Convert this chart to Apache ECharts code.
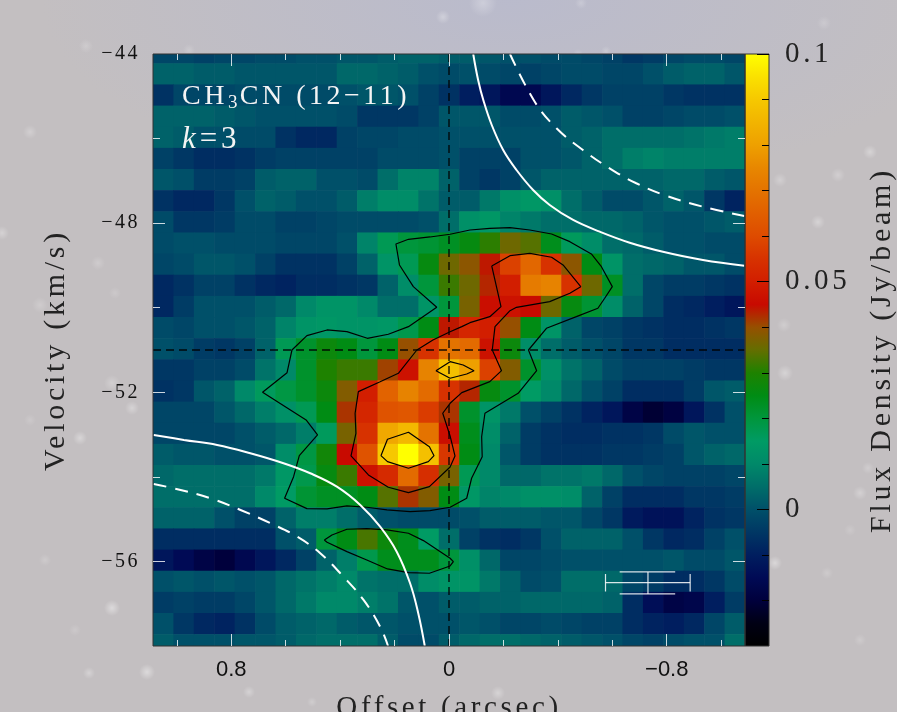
<!DOCTYPE html>
<html><head><meta charset="utf-8">
<style>
html,body{margin:0;padding:0;width:897px;height:712px;overflow:hidden}
body{background-color:#c3bfc1}
#c{width:897px;height:712px}
</style>
<script src="https://cdn.jsdelivr.net/npm/echarts@6/dist/echarts.min.js"></script>
</head><body><div id="c"></div>
<script>
// Offset centres (arcsec) and velocity centres (km/s) of the 29x29 map
const offsetIndex = [14,13,12,11,10,9,8,7,6,5,4,3,2,1,0,-1,-2,-3,-4,-5,-6,-7,-8,-9,-10,-11,-12,-13,-14];
const cellWidth = 0.075;
const velocityTop = -43.97, cellHeight = 0.5;
const colorStops = ['#000000','#000014','#00003c','#000a55','#001e5f','#003764','#005069','#006e69','#008969','#009b64','#00963c','#008c14','#1e8200','#646e00','#965000','#c80a00','#d21e00','#d73200','#de4b00','#e15f00','#e47300','#e88700','#eea000','#f2b400','#f6c800','#fae100','#ffff00'];
// Flux in mJy/beam, read row by row from top to bottom, columns left to right
const fluxRows = [
[-2,-2,-3,-2,-2,-1,-1,0,0,1,1,2,3,3,2,2,1,0,0,-1,-1,-2,-3,-5,-4,-2,-1,-1,-2],
[3,3,2,2,1,1,1,1,1,4,4,3,2,0,-1,0,-1,-2,-3,-2,-1,-1,-2,-2,0,2,3,3,1],
[-6,-2,-2,-2,-1,-1,-1,-1,-1,0,1,1,0,-3,-6,-10,-12,-16,-16,-12,-8,-5,-3,-3,-3,-5,-6,-6,-6],
[3,3,3,2,1,0,0,0,0,-1,-5,-5,-5,-3,1,1,1,-1,-1,0,2,1,0,-3,-3,-2,-1,-1,0],
[3,2,0,0,-1,-1,-6,-8,-8,-3,-2,-2,-1,-1,0,0,0,0,0,0,2,3,5,5,5,5,6,7,8],
[-3,-5,-7,-7,-6,-4,-3,-3,-3,-3,-3,-1,-1,-1,0,-3,-3,-3,0,0,1,3,5,8,9,8,8,8,8],
[1,0,-4,-4,-3,2,3,3,0,0,-1,5,9,9,3,-3,-5,-3,1,3,3,3,3,3,3,4,4,2,1],
[-6,-8,-8,-5,0,3,2,0,0,2,8,11,11,6,2,2,7,12,14,12,5,2,-1,-1,1,3,1,-5,-9],
[-1,-5,-5,-4,-1,-1,-3,-3,-2,-1,-1,-1,-1,0,5,12,14,9,7,5,5,4,4,3,1,0,0,1,2],
[-1,0,0,-1,-1,-1,-2,-2,-2,0,9,17,20,21,23,26,31,36,34,24,16,11,5,4,2,0,0,-1,-1],
[-2,-1,1,1,0,-3,-6,-6,-6,-3,3,13,17,26,36,39,44,58,67,55,39,25,13,5,4,3,1,1,-1],
[-8,-6,-3,-3,-6,-8,-9,-7,-7,-6,-5,3,11,20,32,36,43,50,72,74,55,36,23,5,-2,-4,-4,-5,-6],
[-8,-4,0,0,0,2,4,10,13,13,10,5,5,13,20,37,46,47,45,36,26,21,11,3,-2,-7,-8,-10,-12],
[-1,-2,0,0,1,3,9,13,14,13,13,14,18,25,44,52,50,40,25,13,3,-2,-3,-5,-6,-7,-7,-6,-5],
[0,-1,-4,-5,-3,3,17,22,27,25,20,25,40,55,70,68,47,27,11,5,2,0,-2,-5,-5,-7,-7,-7,-7],
[-5,-5,-3,-3,-1,6,10,22,30,32,32,41,47,74,88,80,58,38,22,12,6,3,-1,-3,-3,-3,-4,-5,-5],
[-6,-5,1,3,10,16,19,22,27,38,50,66,74,68,55,43,26,22,15,10,4,0,-3,-7,-7,-7,-4,1,2],
[-2,-2,-2,1,4,8,12,17,25,42,52,62,63,57,42,22,13,7,0,-3,-6,-9,-12,-18,-21,-19,-12,-6,0],
[-2,-2,-2,-2,0,2,4,8,16,37,55,82,86,70,46,24,11,3,-4,-6,-7,-7,-6,-6,-5,-1,1,0,0],
[2,1,1,0,0,1,11,19,28,45,62,90,100,88,56,25,10,1,-4,-6,-6,-6,-5,-5,-4,-3,1,3,4],
[4,5,5,5,5,7,14,18,26,32,47,53,68,54,37,17,10,4,4,6,6,7,4,0,-2,-3,-3,-3,-2],
[5,5,5,5,5,10,15,21,23,23,25,34,42,38,25,14,9,10,12,12,11,3,-3,-7,-7,-7,-5,-5,-4],
[3,3,3,0,-3,-3,3,8,8,5,2,0,-1,-1,-1,0,2,2,2,1,1,-2,-5,-11,-13,-13,-9,-6,-5],
[-7,-7,-7,-7,-7,-7,0,2,20,25,33,27,24,15,5,-3,-6,-7,-5,0,3,3,3,0,-5,-8,-7,-3,0],
[-12,-15,-18,-20,-16,-12,-8,-3,3,8,18,24,24,24,20,12,4,-2,-2,-1,0,0,0,0,0,1,-1,-1,1],
[0,1,0,1,0,1,4,6,8,10,6,5,5,11,13,13,7,3,-1,0,5,5,4,-2,-4,-7,-7,-5,-1],
[-4,-3,-4,-4,-2,1,4,7,10,10,8,6,1,0,2,2,3,3,4,4,4,4,3,-7,-14,-18,-17,-10,-4],
[0,-5,-8,-9,-6,-1,2,3,4,2,1,1,0,0,0,1,0,-2,-2,-1,-2,-3,-3,-7,-9,-10,-8,-2,2],
[2,0,0,0,1,1,2,4,5,5,5,2,-1,-1,2,4,5,5,4,3,2,1,0,-2,-3,-1,0,0,5]
];
// Contours [offset, velocity]
const contourOuter = [[-0.004,-48.263],[-0.077,-48.162],[-0.15,-48.122],[-0.224,-48.107],[-0.297,-48.162],[-0.377,-48.256],[-0.444,-48.438],[-0.523,-48.729],[-0.56,-49.03],[-0.6,-49.502],[-0.572,-49.777],[-0.547,-50.013],[-0.468,-50.212],[-0.358,-50.486],[-0.292,-51],[-0.322,-51.489],[-0.254,-52.023],[-0.132,-52.496],[-0.12,-53.049],[-0.122,-53.522],[-0.083,-54.033],[-0.065,-54.506],[-0.004,-54.719],[0.07,-54.799],[0.143,-54.823],[0.228,-54.783],[0.302,-54.719],[0.375,-54.688],[0.448,-54.759],[0.522,-54.752],[0.604,-54.506],[0.571,-53.995],[0.55,-53.499],[0.483,-53.009],[0.525,-52.654],[0.685,-52],[0.595,-51.536],[0.577,-51],[0.522,-50.661],[0.448,-50.526],[0.375,-50.567],[0.3,-50.723],[0.223,-50.628],[0.149,-50.448],[0.045,-49.99],[0.131,-49.502],[0.182,-48.989],[0.195,-48.493],[0.149,-48.382],[0.07,-48.327],[-0.004,-48.263]];
const contourMiddle = [[-0.157,-49.013],[-0.224,-48.769],[-0.297,-48.713],[-0.377,-48.807],[-0.419,-48.989],[-0.484,-49.502],[-0.444,-49.659],[-0.37,-49.857],[-0.248,-49.99],[-0.224,-50.07],[-0.169,-50.448],[-0.159,-51],[-0.193,-51.489],[-0.15,-51.749],[-0.047,-52.009],[-0.004,-52.26],[0.023,-52.496],[-0.004,-53.033],[-0.022,-53.506],[-0.004,-53.766],[0.072,-54.232],[0.149,-54.374],[0.223,-54.246],[0.296,-53.955],[0.36,-53.506],[0.342,-52.969],[0.345,-52.496],[0.333,-51.985],[0.253,-51.749],[0.186,-51.55],[0.118,-51],[0.059,-50.763],[-0.004,-50.567],[-0.047,-50.448],[-0.077,-50.354],[-0.15,-50.212],[-0.191,-49.975],[-0.157,-49.013]];
const contourPeak = [[0.25,-53.499],[0.226,-53.111],[0.149,-52.945],[0.072,-53.286],[0.055,-53.499],[0.076,-53.64],[0.149,-53.797],[0.226,-53.64],[0.25,-53.499]];
const contourCentre = [[0.048,-51.489],[-0.004,-51.276],[-0.052,-51.354],[-0.092,-51.489],[-0.065,-51.567],[-0.004,-51.668],[0.048,-51.489]];
const contourLower = [[0.458,-55.492],[0.43,-55.374],[0.375,-55.239],[0.302,-55.225],[0.228,-55.256],[0.149,-55.334],[0.094,-55.508],[-0.004,-55.925],[-0.016,-56.005],[-0.004,-56.107],[0.072,-56.28],[0.149,-56.265],[0.226,-56.178],[0.302,-55.965],[0.375,-55.769],[0.448,-55.546],[0.458,-55.492]];
// Rotation curves [offset, velocity]
const curveSolidRight = [[-0.089,-44],[-0.107,-44.615],[-0.126,-45.088],[-0.157,-45.679],[-0.199,-46.27],[-0.248,-46.743],[-0.309,-47.216],[-0.37,-47.571],[-0.456,-47.925],[-0.554,-48.202],[-0.664,-48.462],[-0.786,-48.675],[-0.933,-48.871],[-1.085,-49.006]];
const curveDashedRight = [[-0.224,-44],[-0.315,-45.128],[-0.395,-45.757],[-0.492,-46.27],[-0.59,-46.703],[-0.688,-47.057],[-0.798,-47.351],[-0.933,-47.611],[-1.085,-47.831]];
const curveSolidLeft = [[1.085,-53.009],[0.974,-53.127],[0.852,-53.246],[0.73,-53.442],[0.608,-53.678],[0.51,-53.915],[0.412,-54.232],[0.326,-54.664],[0.253,-55.178],[0.192,-55.769],[0.143,-56.516],[0.113,-57.225],[0.089,-58]];
const curveDashedLeft = [[1.085,-54.168],[0.986,-54.31],[0.876,-54.506],[0.766,-54.783],[0.656,-55.097],[0.558,-55.414],[0.473,-55.807],[0.388,-56.36],[0.314,-56.911],[0.253,-57.542],[0.224,-58]];
// Reference cross
const refVelocity = -51, refOffset = 0;
const crossSegments = [
 [[-0.575,-56.502],[-0.886,-56.502]],
 [[-0.575,-56.296],[-0.575,-56.714]],
 [[-0.886,-56.296],[-0.886,-56.714]],
 [[-0.731,-56.249],[-0.731,-56.769]],
 [[-0.627,-56.249],[-0.831,-56.249]],
 [[-0.627,-56.769],[-0.831,-56.769]]
];
const xMajor = [0.8,0,-0.8], xMinor = [1,0.6,0.4,0.2,-0.2,-0.4,-0.6,-1];
const yMajor = [-48,-52,-56], yLabels = [-44,-48,-52,-56], yMinor = [-46,-50,-54];
const barMajor = [0,0.05,0.1], barMinor = [-0.02,-0.01,0.01,0.02,0.03,0.04,0.06,0.07,0.08,0.09];
// Faint specks of the photographic backdrop: [x, y, radius, opacity]
const specks = [[443,17,7,.3],[86,46,7,.2],[824,23,7,.18],[606,51,5,.2],[578,54,5,.18],[581,3,6,.2],[483,3,14,.28],[189,50,6,.18],[2,233,7,.3],[98,263,7,.2],[40,305,8,.2],[115,293,6,.15],[112,383,8,.25],[132,408,7,.32],[80,438,7,.35],[870,152,7,.32],[838,175,7,.25],[780,180,7,.25],[818,222,7,.32],[784,325,7,.22],[785,373,8,.32],[868,468,6,.22],[860,493,7,.28],[775,563,7,.38],[827,573,6,.18],[850,530,6,.15],[147,672,8,.42],[89,673,6,.3],[249,692,6,.3],[498,693,7,.32],[312,702,5,.22],[112,608,8,.42],[30,132,7,.25],[45,560,6,.18],[75,630,6,.15],[860,640,6,.18],[30,420,6,.15]];
document.body.style.backgroundImage = specks.map(s=>`radial-gradient(circle ${s[2]}px at ${s[0]}px ${s[1]}px, rgba(255,255,255,${s[3]}) 0%, rgba(255,255,255,0) 100%)`).concat([
 'radial-gradient(ellipse 470px 190px at 510px 0px, rgba(184,186,206,0.85) 0%, rgba(190,190,205,0) 100%)']).join(',');

// Wide tracking of the serif lettering, in drawing and in measuring
const track = ctx => {
  const f=/(\d+(?:\.\d+)?)px.*Liberation Serif/.exec(ctx.font);
  ctx.letterSpacing = f ? (parseFloat(f[1])*0.125).toFixed(2)+'px' : '0px';
};
const proto = CanvasRenderingContext2D.prototype;
const nativeFill = proto.fillText, nativeMeasure = proto.measureText;
proto.fillText = function(t,x,y,m){ track(this); return m===undefined ? nativeFill.call(this,t,x,y) : nativeFill.call(this,t,x,y,m); };
proto.measureText = function(t){ track(this); return nativeMeasure.call(this,t); };

const heat = [];
fluxRows.forEach((row,r)=>row.forEach((v,c)=>heat.push([offsetIndex[c]*cellWidth, velocityTop-r*cellHeight, v/1000])));

const tickCol='rgba(255,255,255,0.8)';
const serif='Liberation Serif';
const xA = (vals,len,pos,lab)=>({type:'value',gridIndex:0,inverse:true,min:-1.0875,max:1.0875,position:pos,z:10,
  axisLine:{show:false,onZero:false},splitLine:{show:false},
  axisTick:{show:true,inside:true,length:len,customValues:vals,lineStyle:{color:tickCol,width:1}},
  axisLabel:lab?{show:true,customValues:vals,margin:13,fontFamily:'Liberation Sans',fontSize:22,color:'#111',formatter:v=>String(v).replace('-','\u2212')}:{show:false},
  ...(lab?{name:'Offset (arcsec)',nameLocation:'middle',nameGap:46,nameTextStyle:{fontFamily:serif,fontSize:29,color:'#222'}}:{})});
const yA = (vals,len,pos,lab)=>({type:'value',gridIndex:0,min:-58,max:-44,position:pos,z:10,
  axisLine:{show:false,onZero:false},splitLine:{show:false},
  axisTick:{show:true,inside:true,length:len,customValues:vals,lineStyle:{color:tickCol,width:1}},
  axisLabel:lab?{show:true,customValues:yLabels,margin:13,fontFamily:serif,fontSize:20,color:'#111',formatter:v=>String(v).replace('-','\u2212')}:{show:false},
  ...(lab?{name:'Velocity (km/s)',nameLocation:'middle',nameGap:80,nameTextStyle:{fontFamily:serif,fontSize:30,color:'#222'}}:{})});

const line=(data,color,width,type,smooth)=>({type:'line',xAxisIndex:0,yAxisIndex:0,data,showSymbol:false,symbol:'none',silent:true,animation:false,clip:true,z:5,smooth:smooth||false,lineStyle:{color,width,type}});

const option = {
 animation:false,
 backgroundColor:'transparent',
 grid:[{left:153,top:54,width:592,height:592,show:true,outerBoundsMode:'none',containLabel:false,backgroundColor:'transparent',borderColor:'#333',borderWidth:1,z:6},
       {left:745,top:54,width:24,height:592,show:true,outerBoundsMode:'none',containLabel:false,backgroundColor:'transparent',borderColor:'#333',borderWidth:1,z:6}],
 xAxis:[xA(xMajor,12,'bottom',true),xA(xMinor,6,'bottom',false),xA(xMajor,12,'top',false),xA(xMinor,6,'top',false),
  {type:'value',gridIndex:1,min:0,max:1,show:false}],
 yAxis:[yA(yMajor,12,'left',true),yA(yMinor,7,'left',false),yA(yMajor,12,'right',false),yA(yMinor,7,'right',false),
  {type:'value',gridIndex:1,min:-0.03,max:0.1,position:'right',z:8,axisLine:{show:false,onZero:false},splitLine:{show:false},
   axisTick:{show:true,inside:true,length:12,customValues:barMajor,lineStyle:{color:'#000',width:1}},
   axisLabel:{show:true,customValues:barMajor,margin:16,fontFamily:serif,fontSize:29,color:'#222',formatter:v=>String(v)},
   name:'Flux Density (Jy/beam)',nameLocation:'middle',nameGap:96,nameRotate:90,nameTextStyle:{fontFamily:serif,fontSize:30,color:'#222'}},
  {type:'value',gridIndex:1,min:-0.03,max:0.1,position:'right',z:8,axisLine:{show:false,onZero:false},splitLine:{show:false},
   axisTick:{show:true,inside:true,length:7,customValues:barMinor,lineStyle:{color:'#000',width:1}},axisLabel:{show:false}}],
 visualMap:[{type:'continuous',show:false,min:-0.03,max:0.1,dimension:2,seriesIndex:0,inRange:{color:colorStops}}],
 series:[
  {type:'custom',xAxisIndex:0,yAxisIndex:0,data:heat,encode:{x:0,y:1},clip:true,z:1,silent:true,
   renderItem:(params,api)=>{
     const p0=api.coord([api.value(0)+cellWidth/2,api.value(1)+cellHeight/2]);
     const p1=api.coord([api.value(0)-cellWidth/2,api.value(1)-cellHeight/2]);
     const shape=echarts.graphic.clipRectByRect({x:p0[0],y:p0[1],width:p1[0]-p0[0]+0.6,height:p1[1]-p0[1]+0.6},
       {x:params.coordSys.x,y:params.coordSys.y,width:params.coordSys.width,height:params.coordSys.height});
     return shape&&{type:'rect',shape,style:{fill:api.visual('color')}};
   }},
  line(contourOuter,'#000',1.2,'solid'),line(contourMiddle,'#000',1.2,'solid'),line(contourPeak,'#000',1.2,'solid'),line(contourCentre,'#000',1.2,'solid'),line(contourLower,'#000',1.2,'solid'),
  line([[refOffset,-44],[refOffset,-58]],'rgba(0,0,0,0.85)',1.5,[8,5]),
  line([[1.0875,refVelocity],[-1.0875,refVelocity]],'rgba(0,0,0,0.9)',1.5,[8,5]),
  line(curveSolidRight,'#fff',2,'solid',0.4),line(curveDashedRight,'#fff',2,[13,9],0.4),line(curveSolidLeft,'#fff',2,'solid',0.4),line(curveDashedLeft,'#fff',2,[13,9],0.4),
  ...crossSegments.map(s=>line(s,'rgba(255,255,255,0.85)',1.2,'solid')),
  // Colour bar: one gradient strip in its own axes
  {type:'custom',xAxisIndex:4,yAxisIndex:4,data:[[0,1,-0.03,0.1]],silent:true,z:2,clip:false,
   encode:{x:[0,1],y:[2,3]},
   renderItem:(params,api)=>{
     const a=api.coord([api.value(0),api.value(3)]), b=api.coord([api.value(1),api.value(2)]);
     const stops=colorStops.map((c,i)=>({offset:1-i/(colorStops.length-1),color:c})).reverse();
     return {type:'rect',shape:{x:a[0],y:a[1],width:b[0]-a[0],height:b[1]-a[1]},
       style:{fill:new echarts.graphic.LinearGradient(0,0,0,1,stops)}};
   }}
 ],
 graphic:[
  {type:'text',left:182,top:81,z:20,style:{text:'CH{s|3}CN (12\u221211)',fill:'#f4f4f4',font:'28px "Liberation Serif"',rich:{s:{font:'19px "Liberation Serif"',fill:'#f4f4f4',verticalAlign:'bottom',padding:[12,0,0,0]}}}},
  {type:'text',left:182,top:122,z:20,style:{text:'{k|k}=3',fill:'#f4f4f4',font:'31px "Liberation Serif"',rich:{k:{font:'italic 31px "Liberation Serif"',fill:'#f4f4f4'}}}}
 ]
};
const chart=echarts.init(document.getElementById('c'),null,{renderer:'canvas'});
chart.setOption(option);
</script>
</body></html>
